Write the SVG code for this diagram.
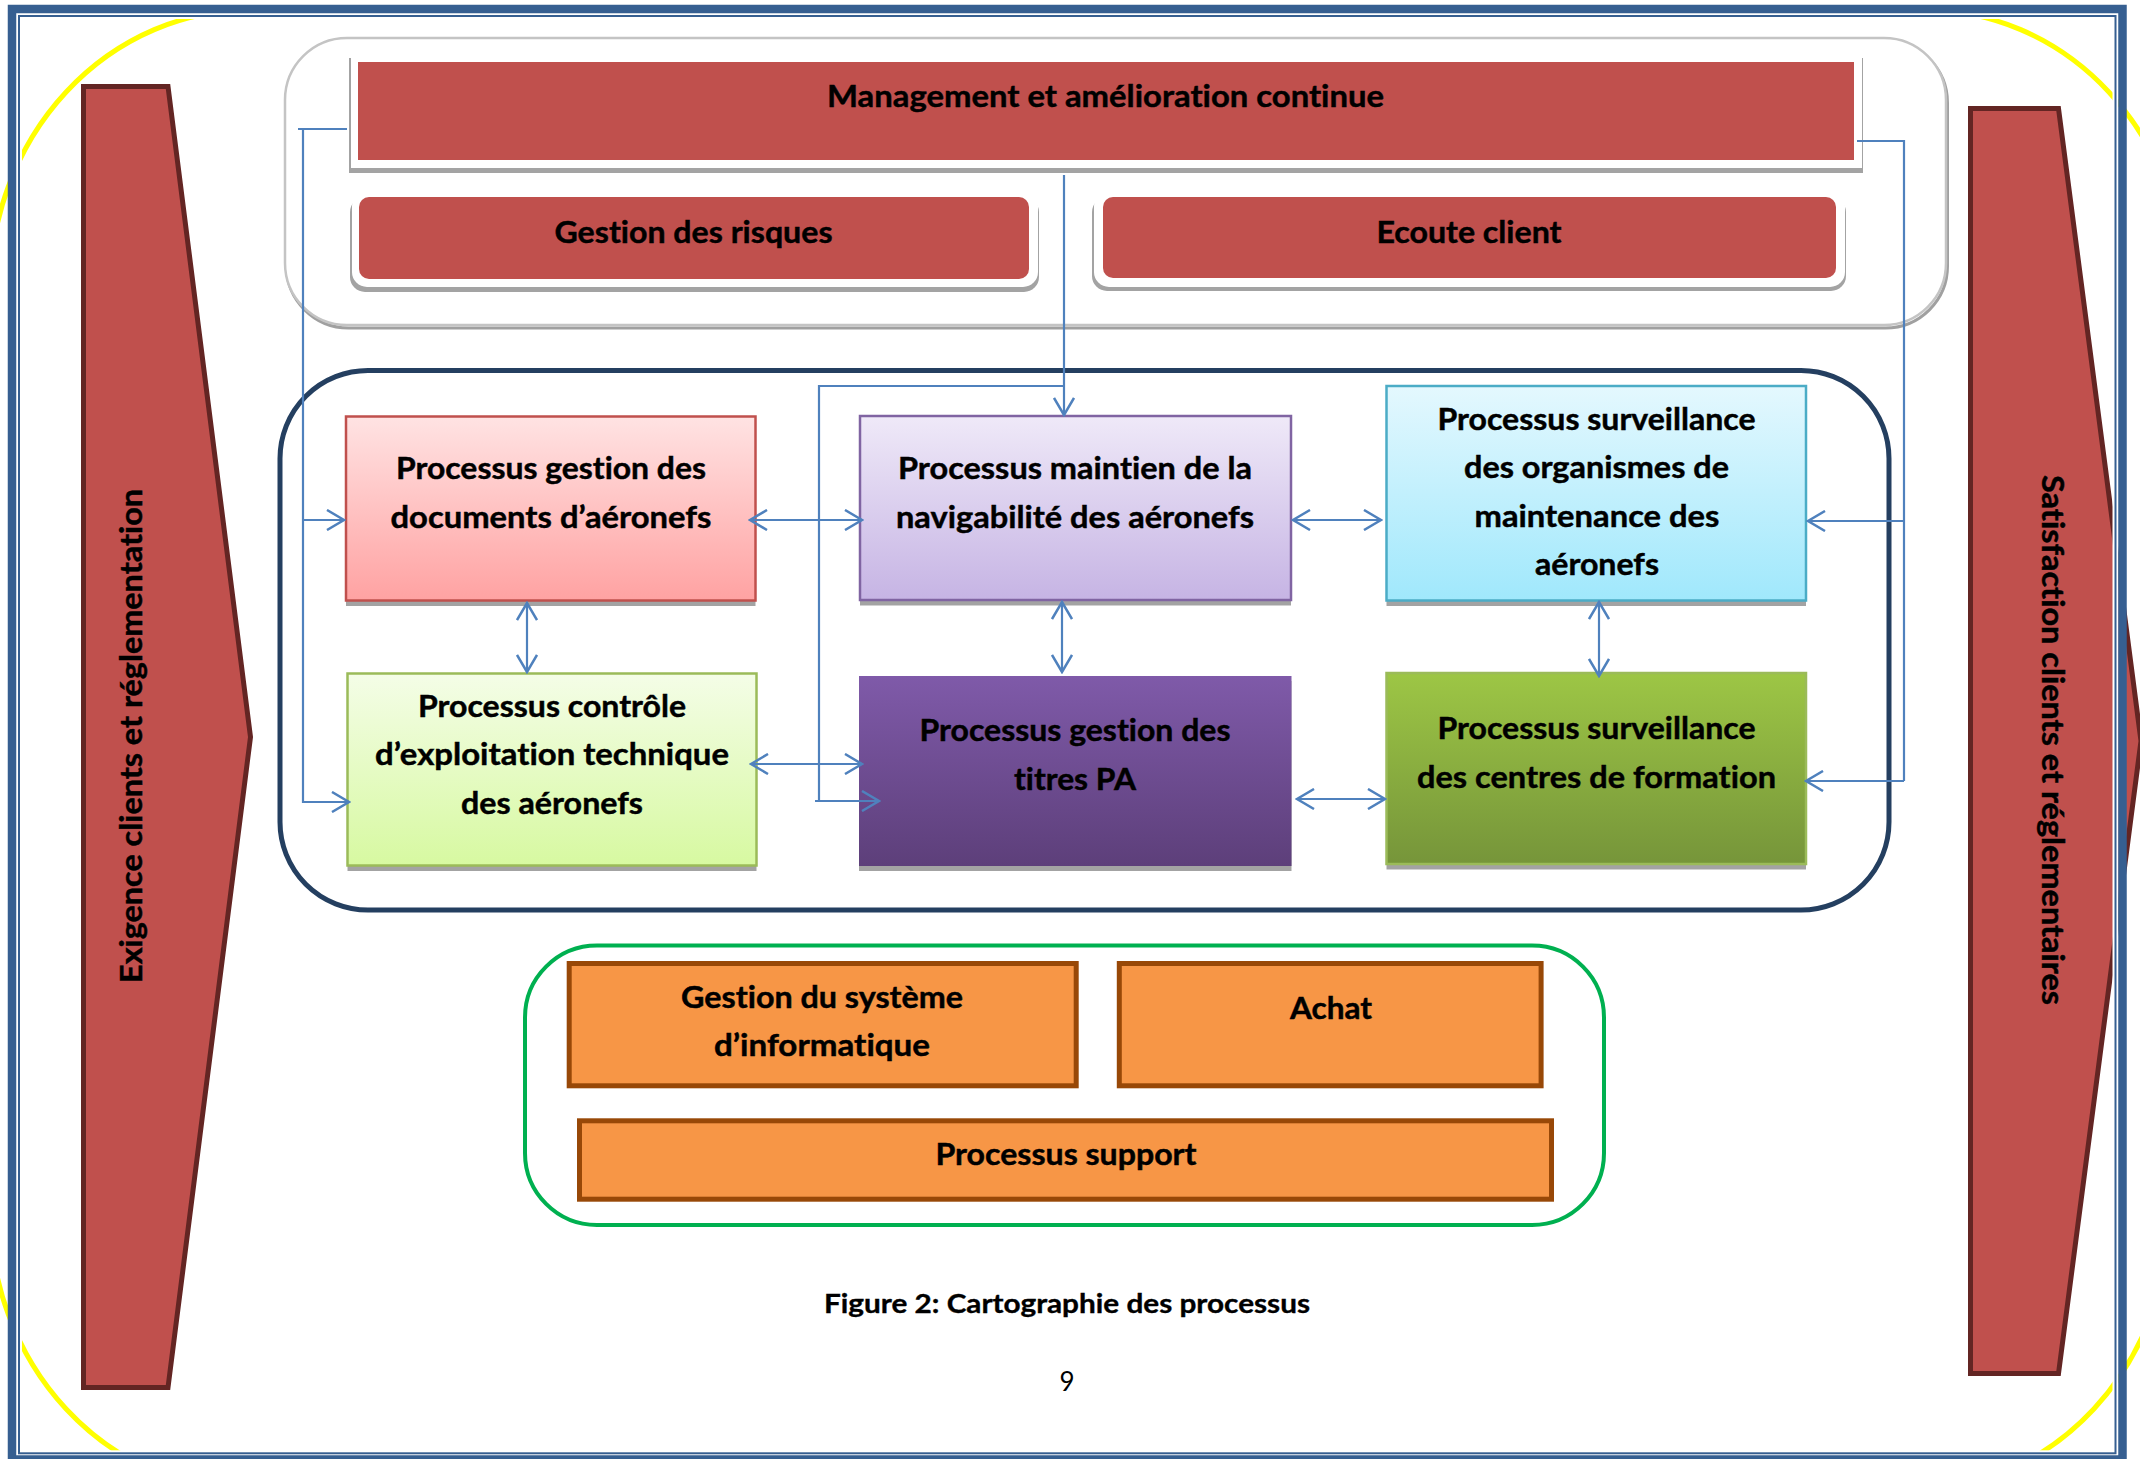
<svg xmlns="http://www.w3.org/2000/svg" width="2140" height="1459" viewBox="0 0 2140 1459">
  <defs>
    <style>
      .t { font-family: Lato, "Liberation Sans", sans-serif; font-weight: 700; font-size: 30px; fill: #000; stroke: #000; stroke-width: 0.45; text-anchor: middle; font-variant-ligatures: no-common-ligatures; }
      .cap { font-family: Lato, "Liberation Sans", sans-serif; font-weight: 700; font-size: 26px; fill: #000; stroke: #000; stroke-width: 0.35; text-anchor: middle; font-variant-ligatures: no-common-ligatures; }
      .num { font-family: Lato, "Liberation Sans", sans-serif; font-weight: 400; font-size: 26px; fill: #000; text-anchor: middle; }
      .side { fill: #C0504D; stroke: #632523; stroke-width: 5; stroke-linejoin: miter; }
      .red { fill: #C0504D; }
      .shadow { fill: #A3A3A3; }
      .frame { fill: #FFFFFF; }
      .box { stroke-width: 2.5; }
      .orange { fill: #F79646; stroke: #984807; stroke-width: 5; }
      .link { fill: none; stroke: #4F81BD; stroke-width: 2.2; }
      .end { marker-end: url(#arr); }
      .both { marker-start: url(#arr); marker-end: url(#arr); }
    </style>
    <marker id="arr" viewBox="0 0 20 22" markerWidth="20" markerHeight="22" refX="18" refY="11" orient="auto-start-reverse" markerUnits="userSpaceOnUse">
      <path d="M1,1 L18,11 L1,21" fill="none" stroke="#4F81BD" stroke-width="2.5"/>
    </marker>
    <linearGradient id="gPink" x1="0" y1="0" x2="0" y2="1">
      <stop offset="0" stop-color="#FFE3E3"/><stop offset="1" stop-color="#FFA2A2"/>
    </linearGradient>
    <linearGradient id="gLime" x1="0" y1="0" x2="0" y2="1">
      <stop offset="0" stop-color="#F4FDE7"/><stop offset="1" stop-color="#D7F9A1"/>
    </linearGradient>
    <linearGradient id="gLav" x1="0" y1="0" x2="0" y2="1">
      <stop offset="0" stop-color="#EFE9F8"/><stop offset="1" stop-color="#C6B4E4"/>
    </linearGradient>
    <linearGradient id="gPurple" x1="0" y1="0" x2="0" y2="1">
      <stop offset="0" stop-color="#7F5AA9"/><stop offset="1" stop-color="#5D3F7A"/>
    </linearGradient>
    <linearGradient id="gCyan" x1="0" y1="0" x2="0" y2="1">
      <stop offset="0" stop-color="#E4F8FE"/><stop offset="1" stop-color="#A0E8FC"/>
    </linearGradient>
    <linearGradient id="gGreen" x1="0" y1="0" x2="0" y2="1">
      <stop offset="0" stop-color="#9DC645"/><stop offset="1" stop-color="#76953A"/>
    </linearGradient>
    <clipPath id="pageClip">
      <rect x="-50" y="17" width="2240" height="1435"/>
    </clipPath>
  </defs>

  <rect x="0" y="0" width="2140" height="1459" fill="#FFFFFF"/>

  <!-- yellow backdrop outline -->
  <path clip-path="url(#pageClip)" d="M250,10 H1925 A260,280 0 0 1 2185,290 L2170,1211 A260,280 0 0 1 1910,1491 H250 A260,280 0 0 1 -10,1211 V290 A260,280 0 0 1 250,10 Z" fill="none" stroke="#FFFF00" stroke-width="5"/>

  <!-- side arrows -->
  <g id="exigence">
    <polygon class="side" points="83.5,86.5 168,86.5 250.5,737 168,1387.5 83.5,1387.5"/>
    <text class="t" transform="translate(141.7,736) rotate(-90)" textLength="494" lengthAdjust="spacingAndGlyphs">Exigence clients et réglementation</text>
  </g>
  <g id="satisfaction">
    <polygon class="side" points="1970.5,108.5 2058.5,108.5 2141,741 2058.5,1373.5 1970.5,1373.5"/>
    <text class="t" transform="translate(2041.7,740) rotate(90)" textLength="530" lengthAdjust="spacingAndGlyphs">Satisfaction clients et réglementaires</text>
  </g>

  <!-- management processes -->
  <g id="pilotage">
    <rect x="286.5" y="41" width="1661" height="287" rx="62" fill="none" stroke="#A0A0A0" stroke-width="3"/>
    <rect x="285" y="38" width="1661" height="287" rx="62" fill="#FFFFFF" stroke="#C4C4C4" stroke-width="2.5"/>
  </g>
  <g id="management">
    <rect class="shadow" x="349" y="58" width="1514" height="115"/>
    <rect class="frame" x="351" y="55" width="1511" height="113"/>
    <rect class="red" x="358" y="62" width="1496" height="98"/>
    <text class="t" x="1105.5" y="107" textLength="557" lengthAdjust="spacingAndGlyphs">Management et amélioration continue</text>
  </g>
  <g id="risques">
    <rect class="shadow" x="350" y="197" width="689" height="95" rx="15"/>
    <rect class="frame" x="352" y="191" width="686" height="96" rx="15"/>
    <rect class="red" x="359" y="197" width="670" height="82" rx="10"/>
    <text class="t" x="693.5" y="243" textLength="278" lengthAdjust="spacingAndGlyphs">Gestion des risques</text>
  </g>
  <g id="ecoute">
    <rect class="shadow" x="1092" y="197" width="754" height="94" rx="15"/>
    <rect class="frame" x="1094" y="191" width="751" height="96" rx="15"/>
    <rect class="red" x="1103" y="197" width="733" height="81" rx="10"/>
    <text class="t" x="1469" y="243" textLength="185" lengthAdjust="spacingAndGlyphs">Ecoute client</text>
  </g>

  <!-- core processes -->
  <g id="realisation">
    <rect x="280" y="370.5" width="1609" height="539.5" rx="88" fill="none" stroke="#243F60" stroke-width="5"/>
  </g>
  <g id="documents">
    <rect class="shadow" x="346" y="422" width="409.5" height="184"/>
    <rect class="box" x="346" y="416.5" width="409.5" height="184" fill="url(#gPink)" stroke="#C0504D"/>
    <text class="t" x="551" y="479" textLength="310" lengthAdjust="spacingAndGlyphs">Processus gestion des</text>
    <text class="t" x="551" y="528" textLength="321" lengthAdjust="spacingAndGlyphs">documents d’aéronefs</text>
  </g>
  <g id="exploitation">
    <rect class="shadow" x="347.5" y="679" width="409" height="192"/>
    <rect class="box" x="347.5" y="673.5" width="409" height="192" fill="url(#gLime)" stroke="#9BBB59"/>
    <text class="t" x="552" y="717" textLength="268" lengthAdjust="spacingAndGlyphs">Processus contrôle</text>
    <text class="t" x="552" y="765" textLength="354" lengthAdjust="spacingAndGlyphs">d’exploitation technique</text>
    <text class="t" x="552" y="814" textLength="182" lengthAdjust="spacingAndGlyphs">des aéronefs</text>
  </g>
  <g id="navigabilite">
    <rect class="shadow" x="860" y="421.5" width="431" height="184"/>
    <rect class="box" x="860" y="416" width="431" height="184" fill="url(#gLav)" stroke="#8064A2"/>
    <text class="t" x="1075" y="479" textLength="354" lengthAdjust="spacingAndGlyphs">Processus maintien de la</text>
    <text class="t" x="1075" y="528" textLength="358" lengthAdjust="spacingAndGlyphs">navigabilité des aéronefs</text>
  </g>
  <g id="titres">
    <rect class="shadow" x="859" y="681" width="432.5" height="190"/>
    <rect x="859" y="676" width="432.5" height="190" fill="url(#gPurple)"/>
    <text class="t" x="1075" y="741" textLength="311" lengthAdjust="spacingAndGlyphs">Processus gestion des</text>
    <text class="t" x="1075" y="790" textLength="122" lengthAdjust="spacingAndGlyphs">titres PA</text>
  </g>
  <g id="organismes">
    <rect class="shadow" x="1386.5" y="391.5" width="419.5" height="214.5"/>
    <rect class="box" x="1386.5" y="386" width="419.5" height="214.5" fill="url(#gCyan)" stroke="#4BACC6"/>
    <text class="t" x="1596.5" y="430" textLength="318" lengthAdjust="spacingAndGlyphs">Processus surveillance</text>
    <text class="t" x="1596.5" y="478" textLength="265" lengthAdjust="spacingAndGlyphs">des organismes de</text>
    <text class="t" x="1597" y="527" textLength="245" lengthAdjust="spacingAndGlyphs">maintenance des</text>
    <text class="t" x="1597" y="575" textLength="124" lengthAdjust="spacingAndGlyphs">aéronefs</text>
  </g>
  <g id="formation">
    <rect class="shadow" x="1386.5" y="678.5" width="419.5" height="191"/>
    <rect class="box" x="1386.5" y="673" width="419.5" height="191" fill="url(#gGreen)" stroke="#9BBB59"/>
    <text class="t" x="1596.5" y="739" textLength="318" lengthAdjust="spacingAndGlyphs">Processus surveillance</text>
    <text class="t" x="1596.5" y="788" textLength="359" lengthAdjust="spacingAndGlyphs">des centres de formation</text>
  </g>

  <!-- support processes -->
  <g id="support-zone">
    <rect x="525" y="945.5" width="1079" height="279.5" rx="72" fill="none" stroke="#00B050" stroke-width="4"/>
  </g>
  <g id="informatique">
    <rect class="orange" x="569.2" y="963.5" width="507" height="122.3"/>
    <text class="t" x="822" y="1008" textLength="282" lengthAdjust="spacingAndGlyphs">Gestion du système</text>
    <text class="t" x="822" y="1056" textLength="216" lengthAdjust="spacingAndGlyphs">d’informatique</text>
  </g>
  <g id="achat">
    <rect class="orange" x="1119.3" y="963.5" width="421.8" height="122.3"/>
    <text class="t" x="1331" y="1019" textLength="82" lengthAdjust="spacingAndGlyphs">Achat</text>
  </g>
  <g id="support">
    <rect class="orange" x="579.5" y="1120.8" width="972" height="78.4"/>
    <text class="t" x="1066" y="1165" textLength="261" lengthAdjust="spacingAndGlyphs">Processus support</text>
  </g>

  <!-- connectors -->
  <g id="connectors">
    <path class="link" d="M347,129 H298 M303,129 V802 H349"/>
    <path class="link end" d="M303,520 H344"/>
    <path class="link end" d="M303,802 H349"/>
    <path class="link" d="M1857,141 H1904 V781"/>
    <path class="link end" d="M1904,521 H1808"/>
    <path class="link end" d="M1904,781 H1806"/>
    <path class="link end" d="M1064,175 V415"/>
    <path class="link" d="M1064,386 H819 V801 H815"/>
    <path class="link end" d="M819,801 H879"/>
    <path class="link both" d="M750,520 H862"/>
    <path class="link both" d="M751,764 H862"/>
    <path class="link both" d="M527,603 V672"/>
    <path class="link both" d="M1293,520 H1381"/>
    <path class="link both" d="M1062,602 V672"/>
    <path class="link both" d="M1297,799 H1385"/>
    <path class="link both" d="M1599,602 V676"/>
  </g>

  <!-- caption and page number -->
  <text class="cap" x="1067" y="1313" textLength="486" lengthAdjust="spacingAndGlyphs">Figure 2: Cartographie des processus</text>
  <text class="num" x="1067" y="1391">9</text>

  <!-- page border: thick outer band, thin inner line -->
  <g id="page-border" fill="none">
    <rect x="19" y="16" width="2096.5" height="1437.3" stroke="#FFFFFF" stroke-width="6"/>
    <rect x="19" y="16" width="2096.5" height="1437.3" stroke="#365F91" stroke-width="2"/>
    <rect x="12" y="9" width="2110.5" height="1450.5" stroke="#365F91" stroke-width="8.5"/>
  </g>
</svg>
